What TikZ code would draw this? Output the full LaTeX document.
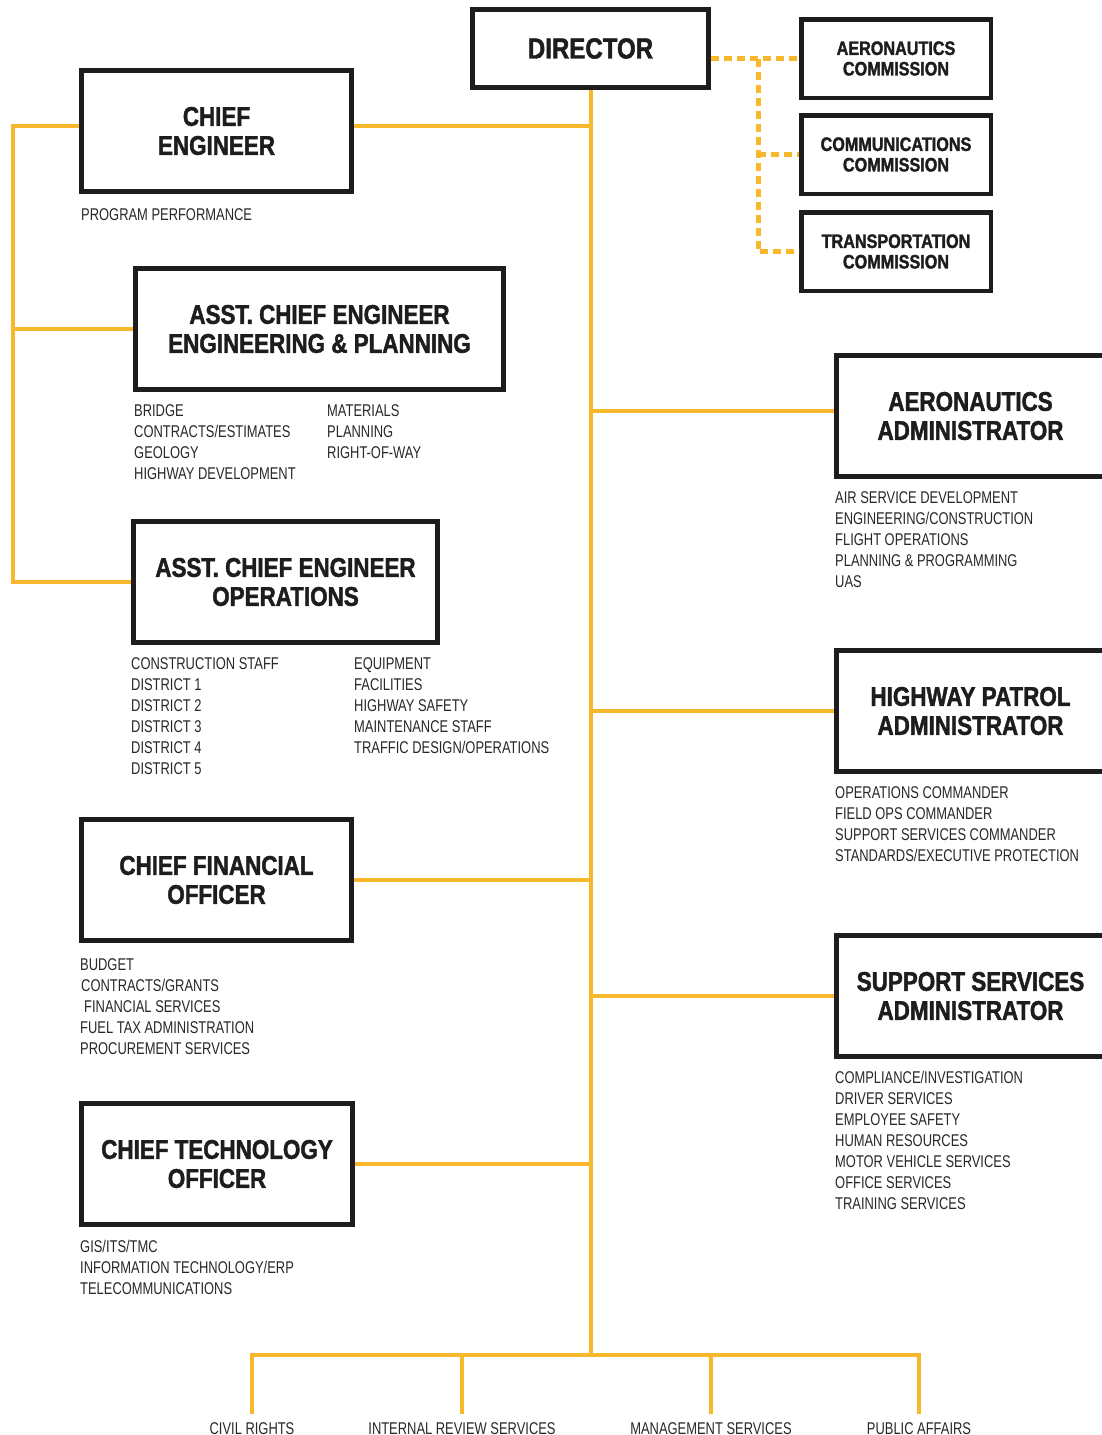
\documentclass[tikz,border=0pt]{standalone}
\usepackage{fontspec}
\setmainfont{Liberation Sans}[FakeStretch=0.76]
\newfontfamily\tfont{Liberation Sans Bold}[FakeStretch=0.83, FakeBold=1.6]
\definecolor{ylc}{RGB}{247,185,43}
\definecolor{boxc}{RGB}{30,28,28}
\definecolor{txtc}{RGB}{40,40,40}
\tikzset{
  box/.style={draw=boxc, line width=5pt, fill=white, inner sep=0pt, align=center,
    font=\tfont\fontsize{27}{29}\selectfont, text=boxc},
  smallbox/.style={box, line width=4.5pt, minimum width=189.5pt, minimum height=78.5pt,
    font=\tfont\fontsize{19.5}{20.5}\selectfont},
  bigbox/.style={box, minimum height=121pt},
  yl/.style={draw=ylc, line width=4pt},
  ydash/.style={draw=ylc, line width=5pt, dash pattern=on 8pt off 5pt},
  lst/.style={inner sep=0pt, anchor=base west, font=\fontsize{17}{21.1}\selectfont, text=txtc},
  bot/.style={lst, anchor=base, outer ysep=8pt},
}
\newcommand{\lines}[1]{\begin{tabular}[t]{@{}l@{}}#1\end{tabular}}
\begin{document}
\begin{tikzpicture}[x=1pt,y=-1pt]
\useasboundingbox (0,0) rectangle (1102,1435);
\fill[white] (0,0) rectangle (1102,1435);

% coordinates for line routing
\coordinate (tb) at (591,1355);
\coordinate (lb) at (13,0);
\coordinate (dv) at (758,0);

% boxes
\node[box, minimum width=236pt, minimum height=78pt, font=\tfont\fontsize{29}{31}\selectfont] (dir) at (590.5,48.5) {DIRECTOR};
\node[smallbox] (ac) at (896,58.5) {AERONAUTICS\\COMMISSION};
\node[smallbox] (cc) at (896,154.5) {COMMUNICATIONS\\COMMISSION};
\node[smallbox] (tc) at (896,251.5) {TRANSPORTATION\\COMMISSION};

\node[bigbox, minimum width=270pt] (ce) at (216.5,131) {CHIEF\\ENGINEER};
\node[bigbox, minimum width=368pt] (aep) at (319.5,329) {ASST. CHIEF ENGINEER\\ENGINEERING \& PLANNING};
\node[bigbox, minimum width=304pt] (ops) at (285.5,582) {ASST. CHIEF ENGINEER\\OPERATIONS};
\node[bigbox, minimum width=270pt] (cfo) at (216.5,880) {CHIEF FINANCIAL\\OFFICER};
\node[bigbox, minimum width=271pt] (cto) at (217,1164) {CHIEF TECHNOLOGY\\OFFICER};
\node[bigbox, minimum width=268pt] (aa) at (970.5,416) {AERONAUTICS\\ADMINISTRATOR};
\node[bigbox, minimum width=268pt] (hp) at (970.5,711) {HIGHWAY PATROL\\ADMINISTRATOR};
\node[bigbox, minimum width=268pt] (ss) at (970.5,996) {SUPPORT SERVICES\\ADMINISTRATOR};

% bottom labels
\node[bot] (cr) at (252,1434) {CIVIL RIGHTS};
\node[bot] (irs) at (462,1434) {INTERNAL REVIEW SERVICES};
\node[bot] (ms) at (711,1434) {MANAGEMENT SERVICES};
\node[bot] (pa) at (919,1434) {PUBLIC AFFAIRS};

% solid connectors
\draw[yl] (dir.south) -- (dir.south |- tb);
\draw[yl] ([yshift=5pt]ce.east) -- ([yshift=5pt]ce.east -| tb);
\draw[yl, line join=miter] ([yshift=5pt]ce.west) -- ([yshift=5pt]ce.west -| lb) |- (ops.west);
\draw[yl] (aep.west) -- (aep.west -| lb);
\draw[yl] (cfo.east) -- (cfo.east -| tb);
\draw[yl] (cto.east) -- (cto.east -| tb);
\draw[yl] ([yshift=5pt]aa.west) -- ([yshift=5pt]aa.west -| tb);
\draw[yl] (hp.west) -- (hp.west -| tb);
\draw[yl] (ss.west) -- (ss.west -| tb);
\draw[yl, line join=miter] (cr.north) |- (pa.north |- tb) -- (pa.north);
\draw[yl] (irs.north) -- (irs.north |- tb);
\draw[yl] (ms.north) -- (ms.north |- tb);

% dashed connectors
\draw[ydash] (dir.east |- ac.west) -- (ac.west);
\draw[ydash] (ac.west -| dv) |- (tc.west);
\draw[ydash] (cc.west -| dv) -- (cc.west);

% lists
\node[lst] (ce-l) at (81,220) {PROGRAM PERFORMANCE};
\node[lst] (aep-l1) at (134,416) {\lines{BRIDGE\\CONTRACTS/ESTIMATES\\GEOLOGY\\HIGHWAY DEVELOPMENT}};
\node[lst] (aep-l2) at (327,416) {\lines{MATERIALS\\PLANNING\\RIGHT-OF-WAY}};
\node[lst] (ops-l1) at (131,669) {\lines{CONSTRUCTION STAFF\\DISTRICT 1\\DISTRICT 2\\DISTRICT 3\\DISTRICT 4\\DISTRICT 5}};
\node[lst] (ops-l2) at (354,669) {\lines{EQUIPMENT\\FACILITIES\\HIGHWAY SAFETY\\MAINTENANCE STAFF\\TRAFFIC DESIGN/OPERATIONS}};
\node[lst] (cfo-l) at (80,970) {\lines{BUDGET\\\hspace{1pt}CONTRACTS/GRANTS\\\hspace{4pt}FINANCIAL SERVICES\\FUEL TAX ADMINISTRATION\\PROCUREMENT SERVICES}};
\node[lst] (cto-l) at (80,1252) {\lines{GIS/ITS/TMC\\INFORMATION TECHNOLOGY/ERP\\TELECOMMUNICATIONS}};
\node[lst] (aa-l) at (835,503) {\lines{AIR SERVICE DEVELOPMENT\\ENGINEERING/CONSTRUCTION\\FLIGHT OPERATIONS\\PLANNING \& PROGRAMMING\\UAS}};
\node[lst] (hp-l) at (835,798) {\lines{OPERATIONS COMMANDER\\FIELD OPS COMMANDER\\SUPPORT SERVICES COMMANDER\\STANDARDS/EXECUTIVE PROTECTION}};
\node[lst] (ss-l) at (835,1083) {\lines{COMPLIANCE/INVESTIGATION\\DRIVER SERVICES\\EMPLOYEE SAFETY\\HUMAN RESOURCES\\MOTOR VEHICLE SERVICES\\OFFICE SERVICES\\TRAINING SERVICES}};
\end{tikzpicture}
\end{document}
